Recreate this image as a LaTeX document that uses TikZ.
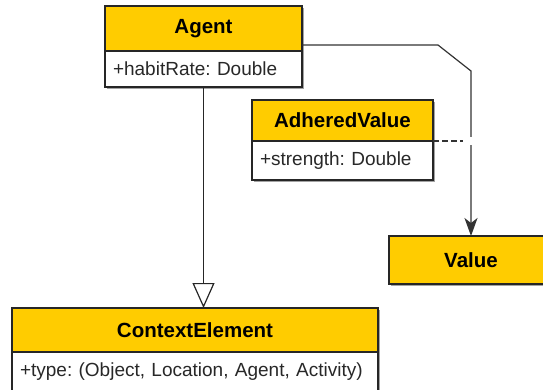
\documentclass[tikz,border=0pt]{standalone}
\usepackage{fontspec}
\setmainfont{Liberation Sans}
\usetikzlibrary{positioning,arrows.meta,shadows}
\definecolor{classyellow}{RGB}{255,204,0}
\definecolor{attrgray}{RGB}{40,40,40}
\frenchspacing

\begin{document}
\begin{tikzpicture}[x=1pt,y=-1pt]
                \tikzset{ClassName/.style= {draw=black!85, line width=1.3pt, fill=classyellow, outer sep=0pt, inner sep=0pt,
                        font=\fontsize{20.5}{24}\selectfont\bfseries,
                        drop shadow={shadow xshift=1.5pt, shadow yshift=-1.5pt, fill=black!60, opacity=0.6}}}
                \tikzset{ClassAttr/.style= {draw=black!85, line width=1.3pt, fill=white, outer sep=0pt, inner xsep=8pt, inner ysep=0pt,
                        align=left, text=attrgray, font=\fontsize{19}{22}\selectfont,
                        drop shadow={shadow xshift=1.5pt, shadow yshift=-1.5pt, fill=black!60, opacity=0.6}}}
                \tikzset{Gen/.style= {draw=black!85, line width=1.2pt, -{Triangle[open, length=25pt, width=22pt, line width=1.2pt]}}}
                \tikzset{Assoc/.style= {draw=black!80, line width=1.2pt, -{Stealth[length=18pt, width=13pt, inset=5pt]}}}
                \tikzset{AssocLink/.style= {draw=black!80, line width=1.2pt, dash pattern=on 6pt off 3pt}}
                \useasboundingbox (0,0) rectangle (543,389);

                \node[ClassName, minimum width=197pt, minimum height=45pt] (agent) at (203.5,28.5) {Agent};
                \node[ClassAttr, text width=181pt, minimum height=36pt, below=0pt of agent] (agentattr) {+habitRate: Double};

                \node[ClassName, minimum width=181pt, minimum height=41pt] (adv) at (342.5,120.5) {AdheredValue};
                \node[ClassAttr, text width=165pt, minimum height=39pt, below=0pt of adv] (advattr) {+strength: Double};

                \node[ClassName, minimum width=164pt, minimum height=48pt] (value) at (471,260) {Value};

                \node[ClassName, minimum width=366pt, minimum height=44pt] (ctx) at (195,330) {ContextElement};
                \node[ClassAttr, text width=350pt, minimum height=40pt, below=0pt of ctx] (ctxattr) {+type: (Object, Location, Agent, Activity)};

                \coordinate (turn1) at (438,45);
                \coordinate (turn2) at (471,71);
                \coordinate (jump) at (advattr.north east -| value.north);

                \draw[Gen] (agentattr.south) -- (agentattr.south |- ctx.north);
                \draw[Assoc] ([yshift=6pt]agent.south east) -- (turn1) -- (turn2) -- (value.north);
                \fill[white] ([xshift=-2pt,yshift=-4pt]jump) rectangle ([xshift=2pt,yshift=4pt]jump);
                \draw[AssocLink] (advattr.north east) -- ([xshift=-8pt]jump);

            \end{tikzpicture}
\end{document}
